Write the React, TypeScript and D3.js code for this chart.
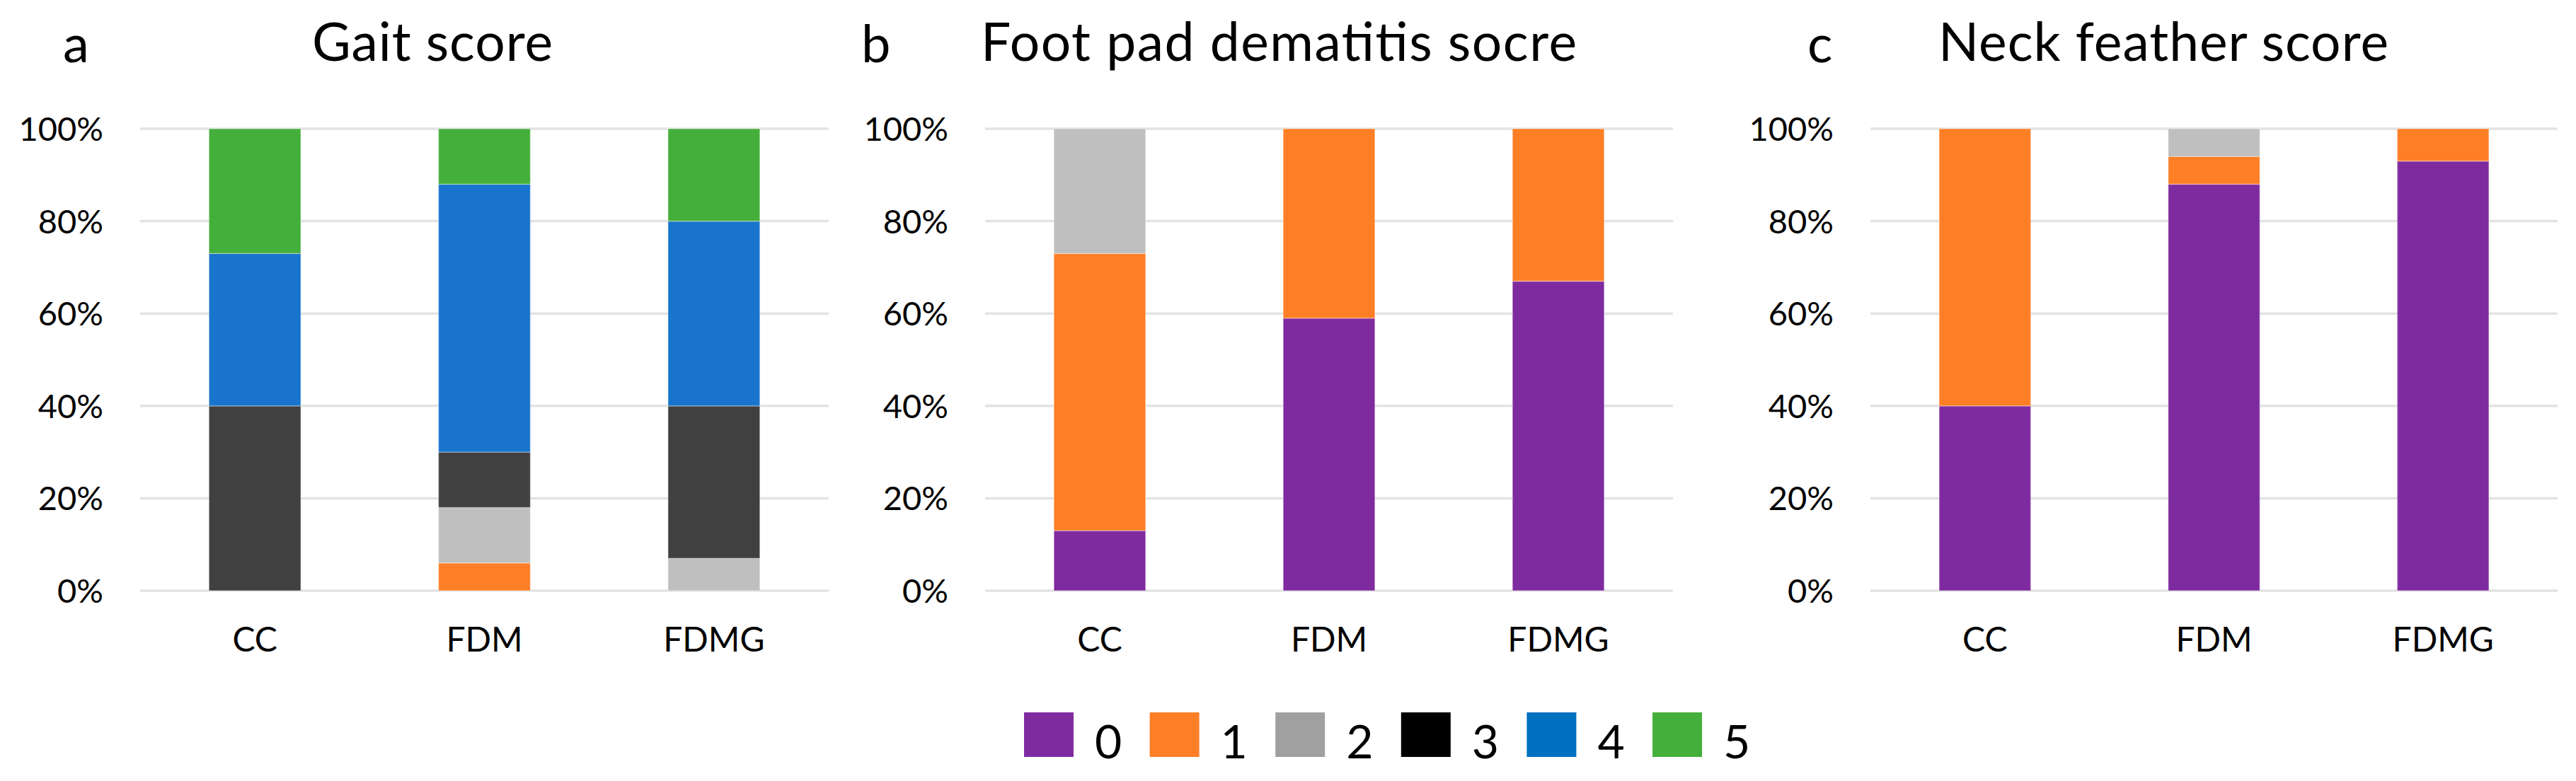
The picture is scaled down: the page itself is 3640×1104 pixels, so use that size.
import React from "react";
import * as d3 from "d3";

const categories = ["CC", "FDM", "FDMG"];
const scoreKeys = ["0", "1", "2", "3", "4", "5"];

// share of birds (%) per score, one inner array per score, values for CC, FDM, FDMG
const gaitByScore = [
  [0, 0, 0],
  [0, 6, 0],
  [0, 12, 7],
  [40, 12, 33],
  [33, 58, 40],
  [27, 12, 20],
];
const footPadByScore = [
  [13, 59, 67],
  [60, 41, 33],
  [27, 0, 0],
  [0, 0, 0],
  [0, 0, 0],
  [0, 0, 0],
];
const neckFeatherByScore = [
  [40, 88, 93],
  [60, 6, 7],
  [0, 6, 0],
  [0, 0, 0],
  [0, 0, 0],
  [0, 0, 0],
];

const yTicks = [0, 20, 40, 60, 80, 100];

const barColors = ["#7F2BA0", "#FE7F26", "#BFBFBF", "#404040", "#1874CC", "#45AF3B"];
const legendColors = ["#7F2BA0", "#FE7F26", "#A0A0A0", "#000000", "#0070C0", "#45AF3B"];

const FONT = "Lato, 'Noto Sans', sans-serif";

const panels = [
  { letter: "a", title: "Gait score", data: gaitByScore, left: 198, right: 1171, letterX: 89, titleX: 611, titleW: 340 },
  { letter: "b", title: "Foot pad dematitis socre", data: footPadByScore, left: 1392, right: 2364, letterX: 1217, titleX: 1807, titleW: 842 },
  { letter: "c", title: "Neck feather score", data: neckFeatherByScore, left: 2643, right: 3614, letterX: 2554, titleX: 3057, titleW: 636 },
];

const y = d3.scaleLinear().domain([0, 100]).range([835, 182]);

type Row = { cat: string; [k: string]: number | string };

function Panel({ p }: { p: (typeof panels)[number] }) {
  const x = d3
    .scaleBand<string>()
    .domain(categories)
    .range([p.left, p.right])
    .paddingInner(0.6)
    .paddingOuter(0.3);

  const rows: Row[] = categories.map((cat, i) => {
    const r: Row = { cat };
    scoreKeys.forEach((k, s) => (r[k] = p.data[s][i]));
    return r;
  });
  const series = d3
    .stack<Row>()
    .keys(scoreKeys)
    .value((d, k) => d[k] as number)(rows);

  return (
    <g>
      <text x={p.letterX} y={88} fontSize={74} fontFamily={FONT}>
        {p.letter}
      </text>
      <text
        x={p.titleX}
        y={86}
        fontSize={75}
        fontFamily={FONT}
        textAnchor="middle"
        textLength={p.titleW}
        lengthAdjust="spacing"
      >
        {p.title}
      </text>
      {yTicks.map((t) => (
        <g key={t}>
          <line x1={p.left} x2={p.right} y1={y(t)} y2={y(t)} stroke="#E3E3E3" strokeWidth={3.5} />
          <text
            x={p.left - 52}
            y={y(t)}
            dy="0.36em"
            fontSize={47}
            fontFamily={FONT}
            textAnchor="end"
          >
            {t}%
          </text>
        </g>
      ))}
      {series.map((s, si) =>
        s.map((d) =>
          d[1] - d[0] > 0 ? (
            <rect
              key={si + "-" + d.data.cat}
              x={x(d.data.cat as string)}
              width={x.bandwidth()}
              y={y(d[1])}
              height={y(d[0]) - y(d[1])}
              fill={barColors[si]}
              stroke="rgba(255,255,255,0.3)"
              strokeWidth={1.5}
            />
          ) : null
        )
      )}
      {categories.map((c) => (
        <text
          key={c}
          x={(x(c) as number) + x.bandwidth() / 2}
          y={921}
          fontSize={48}
          fontFamily={FONT}
          textAnchor="middle"
        >
          {c}
        </text>
      ))}
    </g>
  );
}

export default function App() {
  const legendX = d3.scalePoint<string>().domain(scoreKeys).range([1447, 2335]);
  return (
    <svg
      width={3640}
      height={1104}
      style={{ position: "absolute", left: 0, top: 0, background: "#fff" }}
    >
      <rect width={3640} height={1104} fill="#fff" />
      {panels.map((p) => (
        <Panel key={p.letter} p={p} />
      ))}
      {scoreKeys.map((k, i) => (
        <g key={k}>
          <rect x={legendX(k)} y={1007} width={70} height={63} fill={legendColors[i]} />
          <text x={(legendX(k) as number) + 100} y={1072} fontSize={66} fontFamily={FONT}>
            {k}
          </text>
        </g>
      ))}
    </svg>
  );
}
